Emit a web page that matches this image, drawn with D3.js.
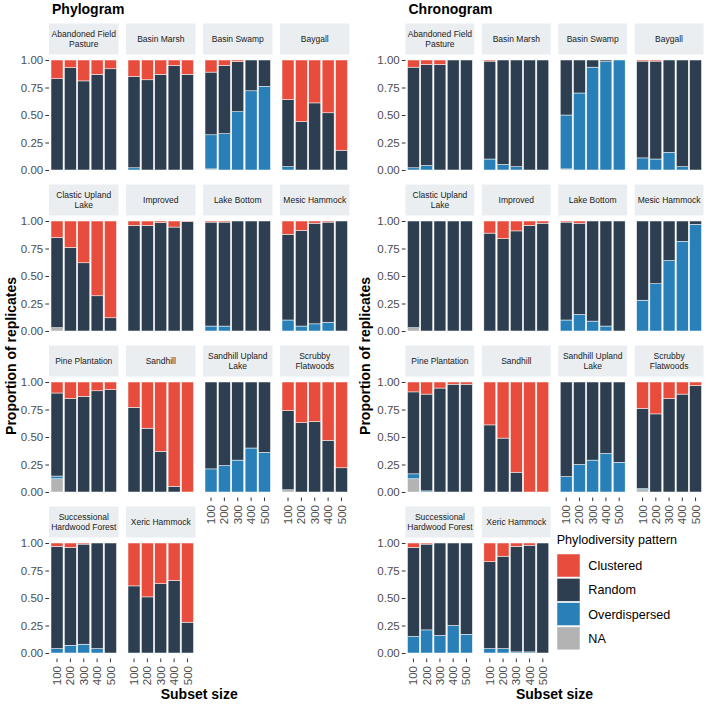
<!DOCTYPE html>
<html><head><meta charset="utf-8">
<script src="https://cdn.jsdelivr.net/npm/d3@7"></script>
<style>html,body{margin:0;padding:0;background:#fff;}svg{display:block;font-family:"Liberation Sans",Arial,sans-serif;}</style>
</head><body>
<svg id="chart" width="709" height="704"></svg>
<script>
// ---- data ----
const habitats = ["Abandoned Field\nPasture","Basin Marsh","Basin Swamp","Baygall",
  "Clastic Upland\nLake","Improved","Lake Bottom","Mesic Hammock",
  "Pine Plantation","Sandhill","Sandhill Upland\nLake","Scrubby\nFlatwoods",
  "Successional\nHardwood Forest","Xeric Hammock"];
const subsetSizes = ["100","200","300","400","500"];
const patterns = ["Clustered","Random","Overdispersed","NA"];
const patternColors = ["#E74C3C","#2C3E50","#2980B9","#B3B3B3"];
const yTicks = [0,0.25,0.5,0.75,1];

// Phylogram proportions (habitat x subset size)
const phyloNA = [
 [0,0,0,0,0],[0,0,0,0,0],[0.01,0,0,0,0],[0,0,0,0,0],
 [0.03,0,0,0,0],[0,0,0,0,0],[0,0,0,0,0],[0,0,0,0,0],
 [0.12,0,0,0,0],[0,0,0,0,0],[0,0,0,0,0],[0.02,0,0,0,0],
 [0,0,0,0,0],[0,0,0,0,0]];
const phyloOver = [
 [0,0,0,0,0],[0.02,0,0,0,0],[0.31,0.33,0.53,0.72,0.76],[0.03,0,0,0,0],
 [0,0,0,0,0],[0,0,0,0,0],[0.045,0.045,0,0,0],[0.10,0.045,0.065,0.08,0],
 [0.025,0,0,0,0],[0,0,0,0,0],[0.21,0.24,0.29,0.40,0.36],[0,0,0,0,0],
 [0.04,0.07,0.08,0.04,0],[0,0,0,0,0]];
const phyloRandom = [
 [0.83,0.93,0.81,0.87,0.92],[0.83,0.82,0.87,0.95,0.87],[0.57,0.62,0.455,0.28,0.24],[0.61,0.44,0.61,0.52,0.18],
 [0.82,0.76,0.62,0.32,0.12],[0.96,0.96,0.985,0.945,0.995],[0.945,0.945,1,1,1],[0.78,0.87,0.915,0.91,1],
 [0.755,0.85,0.87,0.92,0.93],[0.77,0.58,0.37,0.05,0],[0.79,0.76,0.71,0.60,0.64],[0.72,0.63,0.64,0.47,0.22],
 [0.93,0.89,0.91,0.96,1],[0.61,0.51,0.63,0.66,0.28]];
const phyloClustered = [
 [0.17,0.07,0.19,0.13,0.08],[0.15,0.18,0.13,0.05,0.13],[0.11,0.05,0.015,0,0],[0.36,0.56,0.39,0.48,0.82],
 [0.15,0.24,0.38,0.68,0.88],[0.04,0.04,0.015,0.055,0.005],[0.01,0.01,0,0,0],[0.12,0.085,0.02,0.01,0],
 [0.10,0.15,0.13,0.08,0.07],[0.23,0.42,0.63,0.95,1],[0,0,0,0,0],[0.26,0.37,0.36,0.53,0.78],
 [0.03,0.04,0.01,0,0],[0.39,0.49,0.37,0.34,0.72]];

// Chronogram proportions
const chronoNA = [
 [0,0,0,0,0],[0,0,0,0,0],[0.01,0,0,0,0],[0,0,0,0,0],
 [0.03,0,0,0,0],[0,0,0,0,0],[0,0,0,0,0],[0,0,0,0,0],
 [0.12,0,0,0,0],[0,0,0,0,0],[0,0,0,0,0],[0.02,0,0,0,0],
 [0,0,0,0,0],[0,0,0,0,0]];
const chronoOver = [
 [0.02,0.04,0,0,0],[0.10,0.05,0.03,0,0],[0.49,0.70,0.935,0.985,1],[0.11,0.10,0.16,0.03,0],
 [0,0,0,0,0],[0,0,0,0,0],[0.10,0.15,0.09,0.045,0],[0.28,0.43,0.64,0.815,0.97],
 [0.045,0.01,0,0,0],[0,0,0,0,0],[0.14,0.25,0.29,0.35,0.27],[0.01,0,0,0,0],
 [0.15,0.21,0.16,0.25,0.17],[0.04,0.04,0.01,0.01,0]];
const chronoRandom = [
 [0.915,0.92,0.96,1,1],[0.89,0.95,0.97,1,1],[0.50,0.30,0.065,0.015,0],[0.88,0.89,0.84,0.97,1],
 [0.97,1,1,1,1],[0.89,0.84,0.91,0.96,0.98],[0.89,0.83,0.91,0.955,1],[0.72,0.57,0.36,0.185,0.03],
 [0.745,0.88,0.945,0.98,0.98],[0.61,0.49,0.18,0,0],[0.86,0.75,0.71,0.65,0.73],[0.73,0.71,0.85,0.89,0.97],
 [0.81,0.78,0.84,0.75,0.83],[0.79,0.84,0.96,0.97,1]];
const chronoClustered = [
 [0.065,0.04,0.04,0,0],[0.01,0,0,0,0],[0,0,0,0,0],[0.01,0.01,0,0,0],
 [0,0,0,0,0],[0.11,0.16,0.09,0.04,0.02],[0.01,0.02,0,0,0],[0,0,0,0,0],
 [0.09,0.11,0.055,0.02,0.02],[0.39,0.51,0.82,1,1],[0,0,0,0,0],[0.24,0.29,0.15,0.11,0.03],
 [0.04,0.01,0,0,0],[0.17,0.12,0.03,0.02,0]];

// ---- drawing ----
const svg = d3.select("#chart");
const color = d3.scaleOrdinal().domain(patterns).range(patternColors);
const stackKeys = ["NA","Overdispersed","Random","Clustered"]; // bottom to top
const FONT_TICK = 11.5;

function drawHalf(ox, x0, x1, title, sets, legend) {
  const g = svg.append("g");
  const gap = 7.5, pw = (x1 - x0 - 3*gap)/4;
  const stripH = 31, panelH = 121, rowPitch = 161, top0 = 23.5;

  g.append("text").attr("x", x0 + 3).attr("y", 13.5)
    .attr("font-size", 14).attr("font-weight", "bold").attr("fill", "#000").text(title);

  habitats.forEach((hab, k) => {
    const col = k % 4, row = Math.floor(k / 4);
    const px = x0 + col*(pw + gap);
    const sy = top0 + row*rowPitch;
    const py = sy + stripH;
    const x = d3.scaleBand().domain(subsetSizes).range([px, px + pw]).paddingInner(0.1).paddingOuter(0.15);
    const y = d3.scaleLinear().domain([-0.05, 1.05]).range([py + panelH, py]);

    // strip
    g.append("rect").attr("x", px).attr("y", sy).attr("width", pw).attr("height", stripH).attr("fill", "#EBEEF0");
    const lines = hab.split("\n");
    const st = g.append("text").attr("text-anchor", "middle").attr("font-size", 8.5).attr("fill", "#1a1a1a");
    lines.forEach((ln, i) => {
      st.append("tspan").attr("x", px + pw/2)
        .attr("y", sy + stripH/2 + (i - (lines.length - 1)/2)*9.3)
        .attr("dy", "0.35em").text(ln);
    });

    // stacked bars
    const rows = subsetSizes.map((s, j) => ({
      size: s,
      "NA": sets.na[k][j], "Overdispersed": sets.over[k][j],
      "Random": sets.random[k][j], "Clustered": sets.clustered[k][j]
    }));
    const series = d3.stack().keys(stackKeys)(rows);
    series.forEach(ser => {
      g.append("g").selectAll("rect").data(ser.filter(d => d[1] - d[0] > 0)).join("rect")
        .attr("x", d => x(d.data.size)).attr("width", x.bandwidth())
        .attr("y", d => y(d[1])).attr("height", d => y(d[0]) - y(d[1]))
        .attr("fill", color(ser.key)).attr("stroke", "#fff").attr("stroke-width", 0.5);
    });

    // y axis
    if (col === 0) {
      const ya = g.append("g").attr("transform", `translate(${px},0)`)
        .call(d3.axisLeft(y).tickValues(yTicks).tickFormat(d3.format(".2f")).tickSize(3.6).tickPadding(2.2));
      ya.select(".domain").remove();
      ya.selectAll(".tick line").attr("stroke", "#333").attr("stroke-width", 1);
      ya.selectAll(".tick text").attr("fill", "#4d4d4d").attr("font-size", FONT_TICK).attr("font-family", null);
    }
    // x axis
    const isBottom = row === 3 || (row === 2 && col >= 2);
    if (isBottom) {
      const xa = g.append("g").attr("transform", `translate(0,${py + panelH})`)
        .call(d3.axisBottom(x).tickSize(3.6));
      xa.select(".domain").remove();
      xa.selectAll(".tick line").attr("stroke", "#333").attr("stroke-width", 1);
      xa.selectAll(".tick text").attr("fill", "#4d4d4d").attr("font-size", FONT_TICK).attr("font-family", null)
        .attr("transform", "rotate(-90)").attr("text-anchor", "end")
        .attr("x", -7.5).attr("y", 0).attr("dy", "0.35em");
    }
  });

  // axis titles
  g.append("text").attr("transform", `translate(${ox + 15.5},356) rotate(-90)`)
    .attr("text-anchor", "middle").attr("font-size", 14).attr("font-weight", "bold").attr("fill", "#000")
    .text("Proportion of replicates");
  g.append("text").attr("x", (x0 + x1)/2).attr("y", 699)
    .attr("text-anchor", "middle").attr("font-size", 14).attr("font-weight", "bold").attr("fill", "#000")
    .text("Subset size");

  if (legend) {
    const lg = g.append("g");
    lg.append("text").attr("x", 556.7).attr("y", 544).attr("font-size", 12.6).attr("fill", "#000")
      .text("Phylodiversity pattern");
    patterns.forEach((p, i) => {
      const ky = 554 + i*24.3;
      lg.append("rect").attr("x", 557).attr("y", ky).attr("width", 23).attr("height", 23)
        .attr("fill", color(p)).attr("stroke", "#fff").attr("stroke-width", 0.5);
      lg.append("text").attr("x", 588.3).attr("y", ky + 11.5).attr("dy", "0.35em")
        .attr("font-size", 12.6).attr("fill", "#000").text(p);
    });
  }
}

drawHalf(0, 49, 349.5, "Phylogram",
  {na: phyloNA, over: phyloOver, random: phyloRandom, clustered: phyloClustered}, false);
drawHalf(354.5, 405.5, 703.5, "Chronogram",
  {na: chronoNA, over: chronoOver, random: chronoRandom, clustered: chronoClustered}, true);
</script>
</body></html>
